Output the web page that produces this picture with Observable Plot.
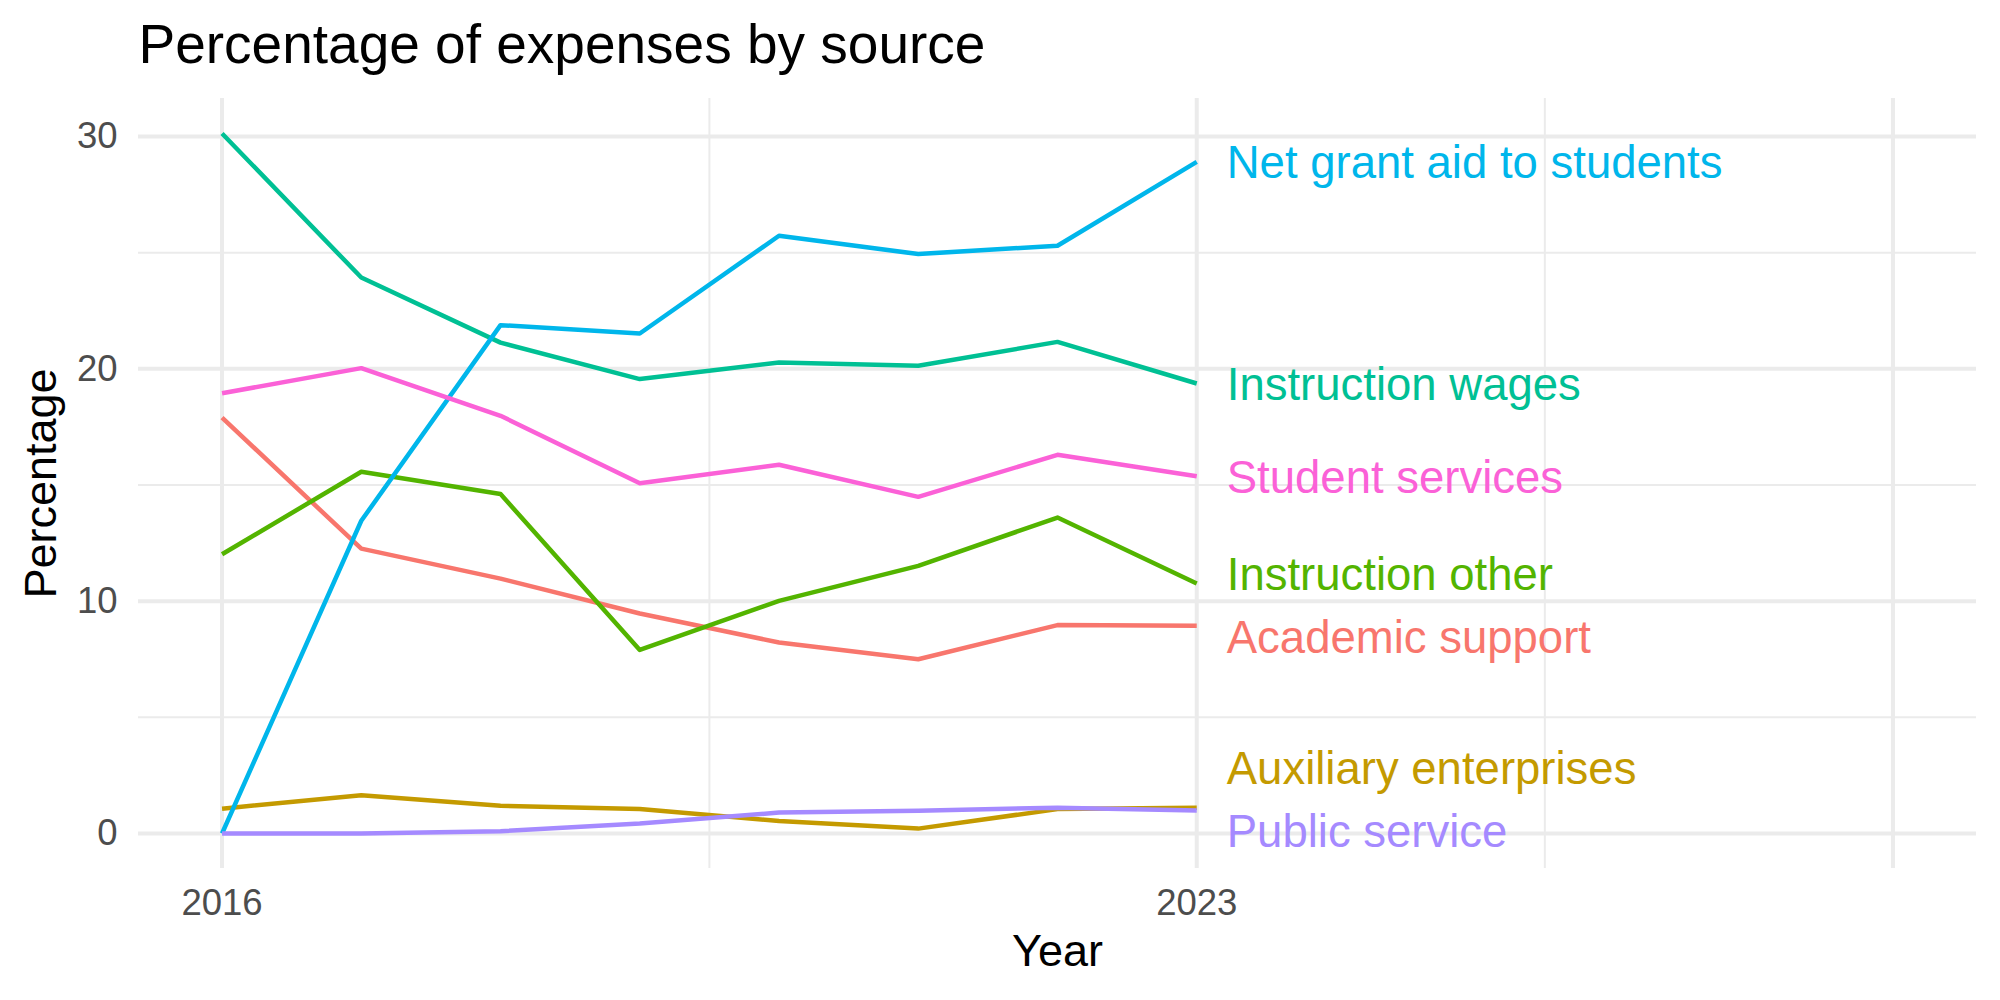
<!DOCTYPE html>
<html>
<head>
<meta charset="utf-8">
<script src="https://cdn.jsdelivr.net/npm/d3@7"></script>
<script src="https://cdn.jsdelivr.net/npm/@observablehq/plot@0.6"></script>
<style>
  html, body { margin: 0; padding: 0; background: #ffffff; }
  #chart { width: 2000px; height: 1000px; }
</style>
</head>
<body>
<div id="chart"></div>
<script>
// Share of total expenses, by expense category, 2016–2023
const years = [2016, 2017, 2018, 2019, 2020, 2021, 2022, 2023];
const sources = [
  "Academic support",
  "Auxiliary enterprises",
  "Instruction other",
  "Instruction wages",
  "Net grant aid to students",
  "Public service",
  "Student services"
];
const academicSupport      = [17.90, 12.26, 10.97,  9.47,  8.22,  7.50,  8.97,  8.94];
const auxiliaryEnterprises = [ 1.07,  1.65,  1.19,  1.05,  0.54,  0.21,  1.05,  1.11];
const instructionOther     = [12.02, 15.57, 14.61,  7.90, 10.01, 11.52, 13.60, 10.76];
const instructionWages     = [30.13, 23.93, 21.13, 19.56, 20.27, 20.13, 21.16, 19.37];
const netGrantAid          = [ 0.00, 13.46, 21.88, 21.52, 25.73, 24.94, 25.30, 28.91];
const publicService        = [ 0.00,  0.00,  0.10,  0.43,  0.90,  0.98,  1.11,  0.99];
const studentServices      = [18.95, 20.03, 17.98, 15.08, 15.87, 14.49, 16.30, 15.38];

// Axis breaks
const xLimits = [2016, 2028];
const xBreaks = [2016, 2023, 2028];
const xTickLabels = ["2016", "2023", ""];
const xMinorBreaks = [2019.5, 2025.5];
const yBreaks = [0, 10, 20, 30];
const yMinorBreaks = [5, 15, 25];

// Default ggplot hue palette for seven groups
const palette = ["#F8766D", "#C49A00", "#53B400", "#00C094", "#00B6EB", "#A58AFF", "#FB61D7"];

const series = [academicSupport, auxiliaryEnterprises, instructionOther, instructionWages,
                netGrantAid, publicService, studentServices];
const rows = sources.flatMap((source, s) =>
  years.map((year, i) => ({source, year, value: series[s][i]}))
);

// Layout
const W = 2000, H = 1000;
const M = {left: 138, right: 24, top: 98, bottom: 132};
const font = "'Liberation Sans', Arial, Helvetica, sans-serif";

// Continuous scales padded by 5% on each side
const pad = ([a, b]) => [a - 0.05 * (b - a), b + 0.05 * (b - a)];
const xDomain = pad(xLimits);
const yDomain = pad(d3.extent(rows, d => d.value));

// Spread the end-of-line labels so they do not collide, keeping them inside the panel
const yPix = d3.scaleLinear(yDomain, [H - M.bottom, M.top]);
const lastIndex = years.length - 1;
const ends = series.map(v => yPix(v[lastIndex]));
function spread(p0, gap, lo, hi) {
  const p = p0.slice();
  const order = d3.sort(d3.range(p.length), i => p[i]);
  for (let iter = 0; iter < 400; ++iter) {
    for (let k = 1; k < order.length; ++k) {
      const a = order[k - 1], b = order[k];
      const overlap = gap - (p[b] - p[a]);
      if (overlap > 0) { p[a] -= overlap / 2; p[b] += overlap / 2; }
    }
    for (const i of order) p[i] = Math.max(lo, Math.min(hi, p[i]));
  }
  return p;
}
const labelPix = spread(ends, 63, M.top + 38, H - M.bottom - 38);
const labels = sources.map((source, s) => ({
  source,
  year: years[lastIndex],
  labelY: yPix.invert(labelPix[s])
}));

const grid = "#EBEBEB";
const xLabelOf = new Map(xBreaks.map((b, i) => [b, xTickLabels[i]]));

const chart = Plot.plot({
  width: W,
  height: H,
  marginLeft: M.left,
  marginRight: M.right,
  marginTop: M.top,
  marginBottom: M.bottom,
  style: {fontFamily: font, background: "#ffffff", color: "#000000"},
  x: {domain: xDomain},
  y: {domain: yDomain},
  color: {domain: sources, range: palette},
  marks: [
    // panel grid
    Plot.ruleY(yMinorBreaks, {stroke: grid, strokeWidth: 2}),
    Plot.ruleX(xMinorBreaks, {stroke: grid, strokeWidth: 2}),
    Plot.ruleY(yBreaks, {stroke: grid, strokeWidth: 4}),
    Plot.ruleX(xBreaks, {stroke: grid, strokeWidth: 4}),
    // axes
    Plot.axisY(yBreaks, {
      tickSize: 0, tickPadding: 21, fontSize: 36.5, fill: "#4D4D4D", label: null
    }),
    Plot.axisX(xBreaks, {
      tickSize: 0, tickPadding: 21, fontSize: 36.5, fill: "#4D4D4D", label: null,
      tickFormat: d => xLabelOf.get(d)
    }),
    // series
    Plot.line(rows, {
      x: "year", y: "value", z: "source", stroke: "source",
      strokeWidth: 4.5, strokeLinecap: "butt", strokeLinejoin: "round"
    }),
    // direct labels at the line ends
    Plot.text(labels, {
      x: "year", y: "labelY", text: "source", fill: "source",
      textAnchor: "start", lineAnchor: "middle", dx: 30, dy: 2, fontSize: 45.5
    }),
    // axis titles
    Plot.text(["Year"], {
      frameAnchor: "bottom", text: d => d, lineAnchor: "bottom",
      dy: 97, fontSize: 45, fill: "#000000"
    }),
    Plot.text(["Percentage"], {
      frameAnchor: "left", text: d => d, rotate: -90, textAnchor: "middle",
      lineAnchor: "bottom", dx: -83, fontSize: 45, fill: "#000000"
    }),
    // chart title
    Plot.text(["Percentage of expenses by source"], {
      frameAnchor: "top-left", text: d => d, textAnchor: "start",
      lineAnchor: "bottom", dx: 0, dy: -35.3, fontSize: 55, fill: "#000000"
    })
  ]
});

document.getElementById("chart").appendChild(chart);
</script>
</body>
</html>
